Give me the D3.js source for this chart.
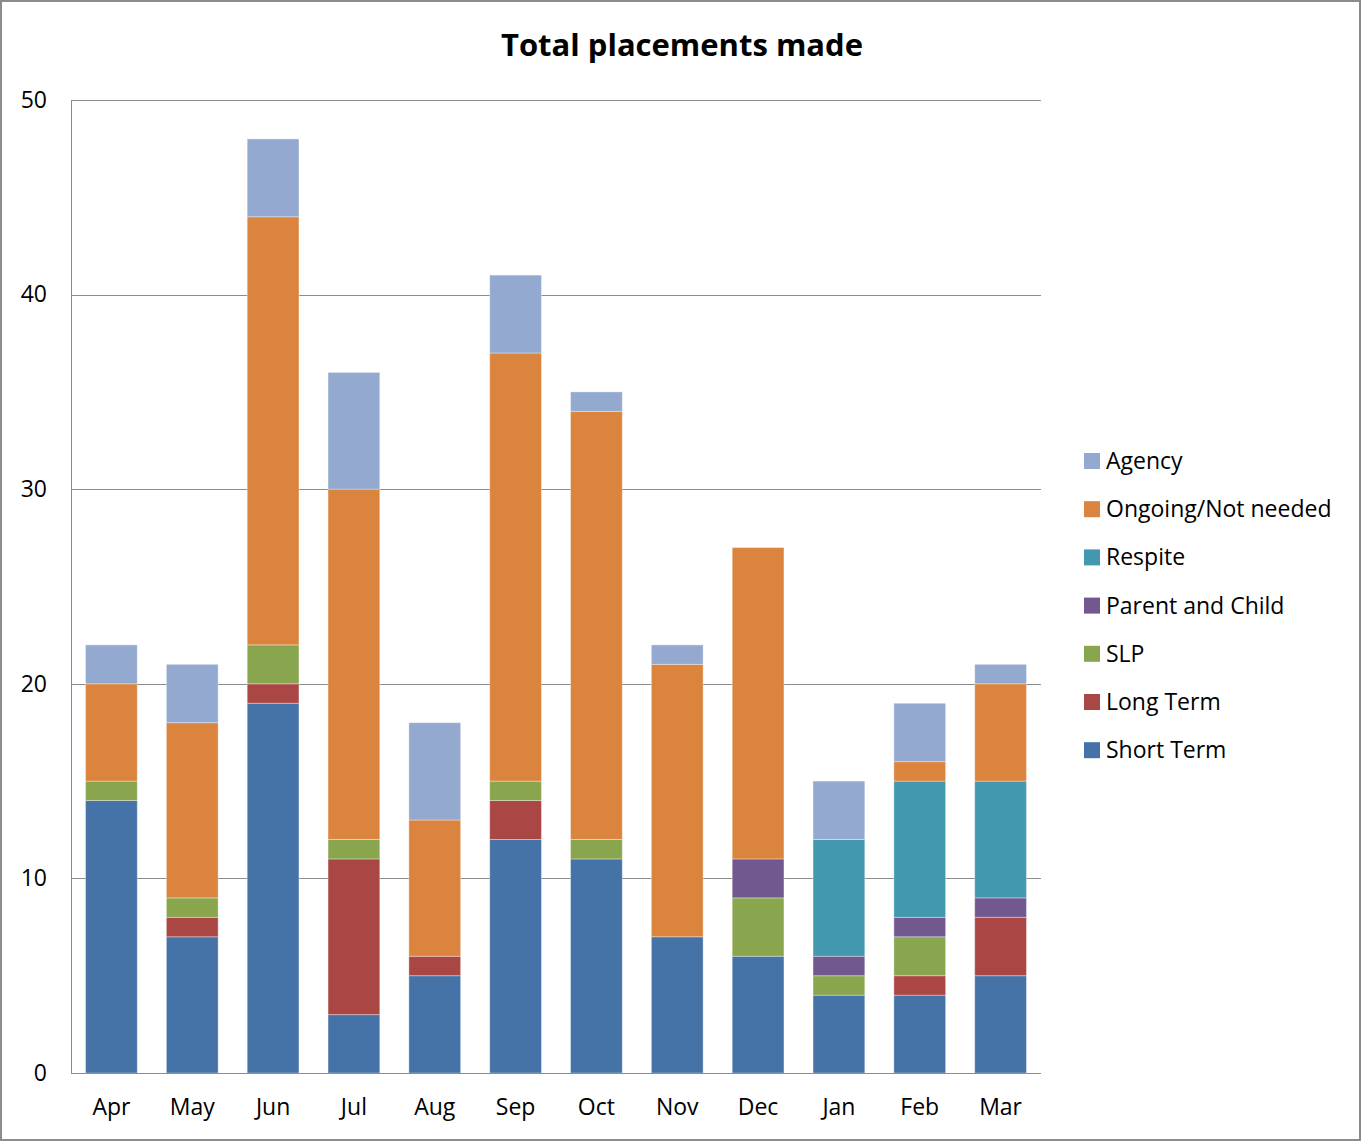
<!DOCTYPE html>
<html>
<head>
<meta charset="utf-8">
<script src="https://cdn.jsdelivr.net/npm/d3@7"></script>
<style>
  html, body { margin: 0; padding: 0; background: #fff; }
  svg { display: block; }
  text { font-family: "Open Sans", "Liberation Sans", sans-serif; fill: #000; }
</style>
</head>
<body>
<svg id="chart" width="1361" height="1141"></svg>
<script>
// Monthly placements, stacked by placement type
const months = ["Apr","May","Jun","Jul","Aug","Sep","Oct","Nov","Dec","Jan","Feb","Mar"];
const shortTerm      = [14, 7, 19, 3, 5, 12, 11, 7, 6, 4, 4, 5];
const longTerm       = [0, 1, 1, 8, 1, 2, 0, 0, 0, 0, 1, 3];
const slp            = [1, 1, 2, 1, 0, 1, 1, 0, 3, 1, 2, 0];
const parentAndChild = [0, 0, 0, 0, 0, 0, 0, 0, 2, 1, 1, 1];
const respite        = [0, 0, 0, 0, 0, 0, 0, 0, 0, 6, 7, 6];
const ongoing        = [5, 9, 22, 18, 7, 22, 22, 14, 16, 0, 1, 5];
const agency         = [2, 3, 4, 6, 5, 4, 1, 1, 0, 3, 3, 1];
const yTicks = [0, 10, 20, 30, 40, 50];

const seriesDefs = [
  { key: "Short Term",          values: shortTerm,      color: "#4572A7" },
  { key: "Long Term",           values: longTerm,       color: "#AA4643" },
  { key: "SLP",                 values: slp,            color: "#89A54E" },
  { key: "Parent and Child",    values: parentAndChild, color: "#71588F" },
  { key: "Respite",             values: respite,        color: "#4198AF" },
  { key: "Ongoing/Not needed",  values: ongoing,        color: "#DB843D" },
  { key: "Agency",              values: agency,         color: "#93A9CF" }
];

const rows = months.map((m, i) => {
  const r = { month: m };
  seriesDefs.forEach(s => { r[s.key] = s.values[i]; });
  return r;
});

const svg = d3.select("#chart");
const W = 1361, H = 1141;
const plot = { left: 71, right: 1041, top: 100, bottom: 1073 };

// outer frame
svg.append("rect")
  .attr("x", 1).attr("y", 1).attr("width", W - 2).attr("height", H - 2)
  .attr("fill", "#fff").attr("stroke", "#8c8c8c").attr("stroke-width", 2);

const x = d3.scaleBand().domain(months).range([plot.left, plot.right]).paddingInner(0.36).paddingOuter(0.18);
const y = d3.scaleLinear().domain([0, 50]).range([plot.bottom, plot.top]);

// gridlines
svg.append("g")
  .selectAll("line").data(yTicks.filter(t => t > 0)).join("line")
  .attr("x1", plot.left).attr("x2", plot.right)
  .attr("y1", d => Math.round(y(d)) + 0.5).attr("y2", d => Math.round(y(d)) + 0.5)
  .attr("stroke", "#8c8c8c").attr("stroke-width", 1);

// stacked bars
const stack = d3.stack().keys(seriesDefs.map(s => s.key));
const layers = stack(rows);
const color = d3.scaleOrdinal().domain(seriesDefs.map(s => s.key)).range(seriesDefs.map(s => s.color));

svg.append("g").selectAll("g").data(layers).join("g")
  .attr("fill", d => color(d.key))
  .selectAll("rect").data(d => d.filter(p => p[1] - p[0] > 0)).join("rect")
  .attr("x", d => x(d.data.month))
  .attr("width", x.bandwidth())
  .attr("y", d => y(d[1]))
  .attr("height", d => y(d[0]) - y(d[1]))
  .attr("stroke", "rgba(255,255,255,0.35)").attr("stroke-width", 1);

// axes lines
svg.append("line")
  .attr("x1", plot.left + 0.5).attr("x2", plot.left + 0.5)
  .attr("y1", plot.top).attr("y2", plot.bottom)
  .attr("stroke", "#8c8c8c");
svg.append("line")
  .attr("x1", plot.left).attr("x2", plot.right)
  .attr("y1", plot.bottom + 0.5).attr("y2", plot.bottom + 0.5)
  .attr("stroke", "#8c8c8c");

// y-axis labels
const yAxis = d3.axisLeft(y).tickValues(yTicks).tickSize(0).tickPadding(24);
const yg = svg.append("g").attr("transform", `translate(${plot.left},0)`).call(yAxis);
yg.select(".domain").remove();
yg.selectAll("text").attr("font-size", 23).attr("font-family", "\"Open Sans\", sans-serif").attr("fill", "#000");

// x-axis labels
const xAxis = d3.axisBottom(x).tickSize(0).tickPadding(26);
const xg = svg.append("g").attr("transform", `translate(0,${plot.bottom})`).call(xAxis);
xg.select(".domain").remove();
xg.selectAll("text").attr("font-size", 23).attr("font-family", "\"Open Sans\", sans-serif").attr("fill", "#000");

// title
svg.append("text")
  .attr("x", 682).attr("y", 56)
  .attr("text-anchor", "middle")
  .attr("font-size", 31).attr("font-weight", "bold")
  .text("Total placements made");

// legend (top entry = top of stack)
const legend = svg.append("g").attr("transform", "translate(1084,461)");
const legendItems = seriesDefs.slice().reverse();
const li = legend.selectAll("g").data(legendItems).join("g")
  .attr("transform", (d, i) => `translate(0,${i * 48.2})`);
li.append("rect").attr("x", 0).attr("y", -8).attr("width", 16).attr("height", 16).attr("fill", d => d.color);
li.append("text").attr("x", 22).attr("y", 0).attr("dy", "0.35em").attr("font-size", 23).text(d => d.key);
</script>
</body>
</html>
